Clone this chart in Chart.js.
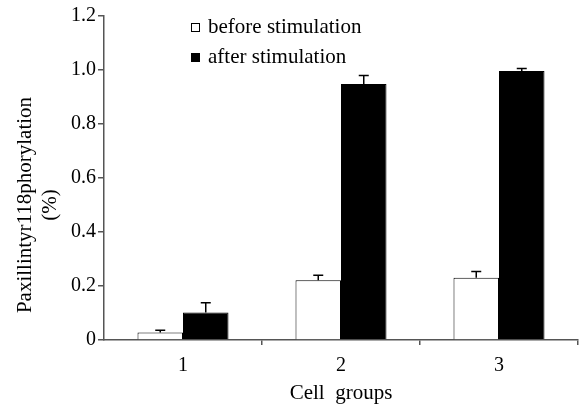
<!DOCTYPE html>
<html>
<head>
<meta charset="utf-8">
<script src="https://cdn.jsdelivr.net/npm/chart.js@4"></script>
<style>
    html, body { margin: 0; padding: 0; background: #ffffff; }
    #wrap { width: 588px; height: 406px; }
</style>
</head>
<body>
<div id="wrap"><canvas id="chart" width="588" height="406"></canvas></div>
<script>
// Chart data
const groups = ['1', '2', '3'];
const beforeValues = [0.028, 0.221, 0.231];
const beforeErrors = [0.008, 0.019, 0.023];
const afterValues = [0.102, 0.948, 0.996];
const afterErrors = [0.036, 0.032, 0.010];
const yTicks = [0, 0.2, 0.4, 0.6, 0.8, 1.0, 1.2];

const serif = 'Liberation Serif';
const axisColor = '#555555';

// Error bars (upward only, with a cap)
const errorBars = {
    id: 'errorBars',
    afterDatasetsDraw(chart) {
        const ctx = chart.ctx;
        const yScale = chart.scales.y;
        ctx.save();
        ctx.strokeStyle = '#000000';
        ctx.lineWidth = 1.5;
        chart.data.datasets.forEach((ds, i) => {
            const meta = chart.getDatasetMeta(i);
            meta.data.forEach((bar, j) => {
                const top = yScale.getPixelForValue(ds.data[j] + ds.errors[j]);
                ctx.beginPath();
                ctx.moveTo(bar.x, bar.y);
                ctx.lineTo(bar.x, top);
                ctx.moveTo(bar.x - 5, top);
                ctx.lineTo(bar.x + 5, top);
                ctx.stroke();
            });
        });
        ctx.restore();
    }
};

// Stacked legend and two-line y title
const extras = {
    id: 'extras',
    afterDraw(chart) {
        const ctx = chart.ctx;
        const area = chart.chartArea;
        ctx.save();
        ctx.fillStyle = '#000000';
        ctx.font = '21px "' + serif + '"';
        ctx.textBaseline = 'alphabetic';
        ctx.textAlign = 'left';
        chart.data.datasets.forEach((ds, i) => {
            const y = 33 + i * 30;
            ctx.fillStyle = ds.backgroundColor;
            ctx.fillRect(191, y - 10, 8, 8);
            ctx.strokeStyle = '#000000';
            ctx.lineWidth = 1;
            ctx.strokeRect(191.5, y - 9.5, 8, 8);
            ctx.fillStyle = '#000000';
            ctx.fillText(ds.label, 208, y);
        });
        const cy = (area.top + area.bottom) / 2 + 27;
        ctx.translate(0, cy);
        ctx.rotate(-Math.PI / 2);
        ctx.textAlign = 'center';
        ctx.textBaseline = 'middle';
        ctx.fillText('Paxillintyr118phorylation', 0, 25);
        ctx.fillText('(%)', 0, 50);
        ctx.restore();
    }
};

const data = {
    labels: groups,
    datasets: [
        {
            label: 'before stimulation',
            data: beforeValues,
            errors: beforeErrors,
            backgroundColor: '#ffffff',
            borderColor: '#000000',
            borderWidth: 1
        },
        {
            label: 'after stimulation',
            data: afterValues,
            errors: afterErrors,
            backgroundColor: '#000000',
            borderColor: '#000000',
            borderWidth: 1
        }
    ]
};

const config = {
    type: 'bar',
    data: data,
    options: {
        responsive: false,
        animation: false,
        layout: { padding: { top: 16, right: 10, left: 0, bottom: 0 } },
        datasets: {
            bar: { categoryPercentage: 0.576, barPercentage: 1.0 }
        },
        plugins: {
            legend: { display: false },
            tooltip: { enabled: false }
        },
        scales: {
            x: {
                offset: true,
                grid: {
                    offset: true,
                    drawOnChartArea: false,
                    tickLength: 5,
                    color: (c) => c.index === 0 ? 'rgba(0,0,0,0)' : axisColor,
                    lineWidth: 1.5
                },
                border: { color: axisColor, width: 1.5 },
                ticks: {
                    color: '#000000',
                    font: { family: serif, size: 20 },
                    padding: 9
                },
                title: {
                    display: true,
                    text: 'Cell  groups',
                    color: '#000000',
                    font: { family: serif, size: 21 },
                    padding: { top: 0, bottom: 0 }
                },
                afterFit(scale) { scale.height = 66; }
            },
            y: {
                min: 0,
                max: 1.2,
                afterBuildTicks(scale) { scale.ticks = yTicks.map(v => ({ value: v })); },
                grid: {
                    drawOnChartArea: false,
                    tickLength: 6,
                    color: axisColor,
                    lineWidth: 1.5
                },
                border: { color: axisColor, width: 1.5 },
                ticks: {
                    color: '#000000',
                    font: { family: serif, size: 20 },
                    padding: 2,
                    callback: (v) => v === 0 ? '0' : v.toFixed(1)
                },
                afterFit(scale) { scale.width = 104; }
            }
        }
    },
    plugins: [errorBars, extras]
};

const cellChart = new Chart(document.getElementById('chart'), config);
</script>
</body>
</html>
